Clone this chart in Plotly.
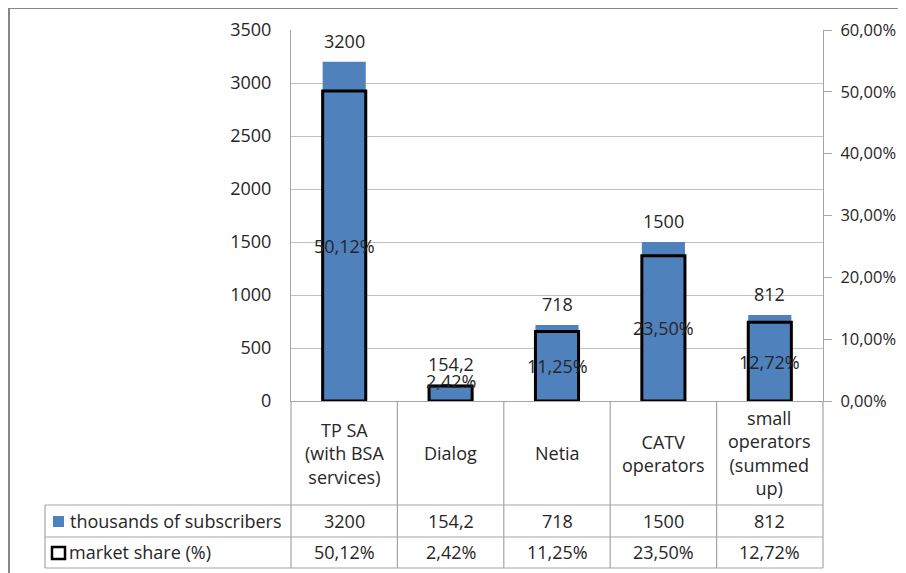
import plotly.graph_objects as go

# ---- data ----
categories = ["TP SA", "Dialog", "Netia", "CATV", "small"]
category_labels = ["TP SA<br>(with BSA<br>services)", "Dialog", "Netia",
                   "CATV<br>operators", "small<br>operators<br>(summed<br>up)"]
subscribers = [3200, 154.2, 718, 1500, 812]          # thousands
market_share = [0.5012, 0.0242, 0.1125, 0.2350, 0.1272]  # fraction
series_names = ["thousands of subscribers", "market share (%)"]
left_ticks = [0, 500, 1000, 1500, 2000, 2500, 3000, 3500]
right_ticks = [0, 0.1, 0.2, 0.3, 0.4, 0.5, 0.6]

# ---- layout geometry (pixels; page has an 8px body margin) ----
OFF = 8
W, H = 906 - OFF, 573 - OFF
L, T = 291 - OFF, 30 - OFF
R = W - (823 - OFF)
B = H - (401 - OFF)
PW, PH = W - L - R, H - T - B
FONT = "Open Sans"
FS = 18
TXT = "#262626"
GRID = "#C0C0C0"
LINE = "#A6A6A6"
BLUE = "#4F81BD"


def px_x(p):
    """page pixel x -> paper x"""
    return (p - OFF - L) / PW


def px_y(p):
    """page pixel y -> paper y"""
    return (H - B - (p - OFF)) / PH


def fmt_num(v):
    return ("%g" % v).replace(".", ",")


def fmt_pct(v):
    return ("%.2f%%" % (v * 100)).replace(".", ",")


n = len(categories)
bar_w = 0.405

fig = go.Figure()
fig.add_trace(go.Bar(
    x=categories, y=subscribers, name=series_names[0], yaxis="y",
    width=bar_w, marker=dict(color=BLUE, line=dict(width=0)),
    hoverinfo="skip"))
fig.add_trace(go.Bar(
    x=categories, y=market_share, name=series_names[1], yaxis="y2",
    width=bar_w, marker=dict(color="rgba(0,0,0,0)", line=dict(color="black", width=3)),
    hoverinfo="skip"))

annotations = []
# value labels above blue bars
for c, v in zip(categories, subscribers):
    annotations.append(dict(x=c, y=v, xref="x", yref="y", text=fmt_num(v),
                            showarrow=False, yanchor="bottom", yshift=7,
                            font=dict(family=FONT, size=FS, color=TXT)))
# market share labels centred in outlined bars (lifted if bar too short)
for c, v in zip(categories, market_share):
    h_px = v / right_ticks[-1] * PH
    lift = max(0, 20 - h_px / 2)
    annotations.append(dict(x=c, y=v / 2, xref="x", yref="y2", text=fmt_pct(v),
                            showarrow=False, yanchor="middle", yshift=lift,
                            font=dict(family=FONT, size=FS, color=TXT)))

# ---- data table ----
cat_row_mid = px_y(453)
row1_mid = px_y(521)
row2_mid = px_y(552)
for c, lab, v1, v2 in zip(categories, category_labels, subscribers, market_share):
    annotations.append(dict(x=c, y=cat_row_mid, xref="x", yref="paper", text=lab,
                            showarrow=False, yanchor="middle",
                            font=dict(family=FONT, size=FS, color=TXT)))
    annotations.append(dict(x=c, y=row1_mid, xref="x", yref="paper", text=fmt_num(v1),
                            showarrow=False, yanchor="middle",
                            font=dict(family=FONT, size=FS, color=TXT)))
    annotations.append(dict(x=c, y=row2_mid, xref="x", yref="paper", text=fmt_pct(v2),
                            showarrow=False, yanchor="middle",
                            font=dict(family=FONT, size=FS, color=TXT)))
annotations.append(dict(x=px_x(68), y=row1_mid, xref="paper", yref="paper",
                        text=series_names[0], showarrow=False, xanchor="left",
                        yanchor="middle", font=dict(family=FONT, size=FS, color=TXT)))
annotations.append(dict(x=px_x(67), y=row2_mid, xref="paper", yref="paper",
                        text=series_names[1], showarrow=False, xanchor="left",
                        yanchor="middle", font=dict(family=FONT, size=FS, color=TXT)))

shapes = []
# outer chart border
shapes.append(dict(type="rect", xref="paper", yref="paper",
                   x0=px_x(9), x1=px_x(930), y0=px_y(8), y1=px_y(600),
                   line=dict(color="#878787", width=2), fillcolor="rgba(0,0,0,0)"))
# table vertical lines at category boundaries
for i in range(n + 1):
    xp = i / n
    shapes.append(dict(type="line", xref="paper", yref="paper",
                       x0=xp, x1=xp, y0=0, y1=px_y(568),
                       line=dict(color=LINE, width=1.2)))
# row header left border
shapes.append(dict(type="line", xref="paper", yref="paper",
                   x0=px_x(45), x1=px_x(45), y0=px_y(505), y1=px_y(568),
                   line=dict(color=LINE, width=1.2)))
# horizontal table lines
for yp in (505, 537, 568):
    shapes.append(dict(type="line", xref="paper", yref="paper",
                       x0=px_x(45), x1=1, y0=px_y(yp), y1=px_y(yp),
                       line=dict(color=LINE, width=1.2)))
# legend keys
shapes.append(dict(type="rect", xref="paper", yref="paper",
                   x0=px_x(53), x1=px_x(64), y0=px_y(527), y1=px_y(516),
                   line=dict(width=0), fillcolor=BLUE))
shapes.append(dict(type="rect", xref="paper", yref="paper",
                   x0=px_x(52), x1=px_x(65), y0=px_y(559), y1=px_y(547),
                   line=dict(color="black", width=2.5), fillcolor="white"))

fig.update_layout(
    width=W, height=H,
    margin=dict(l=L, r=R, t=T, b=B, pad=0, autoexpand=False),
    paper_bgcolor="white", plot_bgcolor="white",
    barmode="overlay", showlegend=False,
    separators=", ",
    font=dict(family=FONT, size=FS, color=TXT),
    xaxis=dict(type="category", range=[-0.5, n - 0.5], showticklabels=False,
               ticks="", showgrid=False, showline=True, linecolor=LINE,
               linewidth=1.2, zeroline=False, fixedrange=True, automargin=False),
    yaxis=dict(range=[0, left_ticks[-1]], tickvals=left_ticks, showgrid=True,
               gridcolor=GRID, gridwidth=1, showline=True, linecolor=LINE,
               linewidth=1.2, ticks="", zeroline=False, ticklabelstandoff=15,
               automargin=False,
               tickfont=dict(family=FONT, size=FS, color=TXT)),
    yaxis2=dict(range=[0, right_ticks[-1]], tickvals=right_ticks, tickformat=".2%",
                overlaying="y", side="right", showgrid=False, showline=True,
                linecolor=LINE, linewidth=1.2, ticks="outside", ticklen=8,
                tickcolor=LINE, zeroline=False, ticklabelstandoff=5,
                automargin=False,
                tickfont=dict(family=FONT, size=16.5, color=TXT)),
    annotations=annotations,
    shapes=shapes,
)

fig.write_html("out.html")
